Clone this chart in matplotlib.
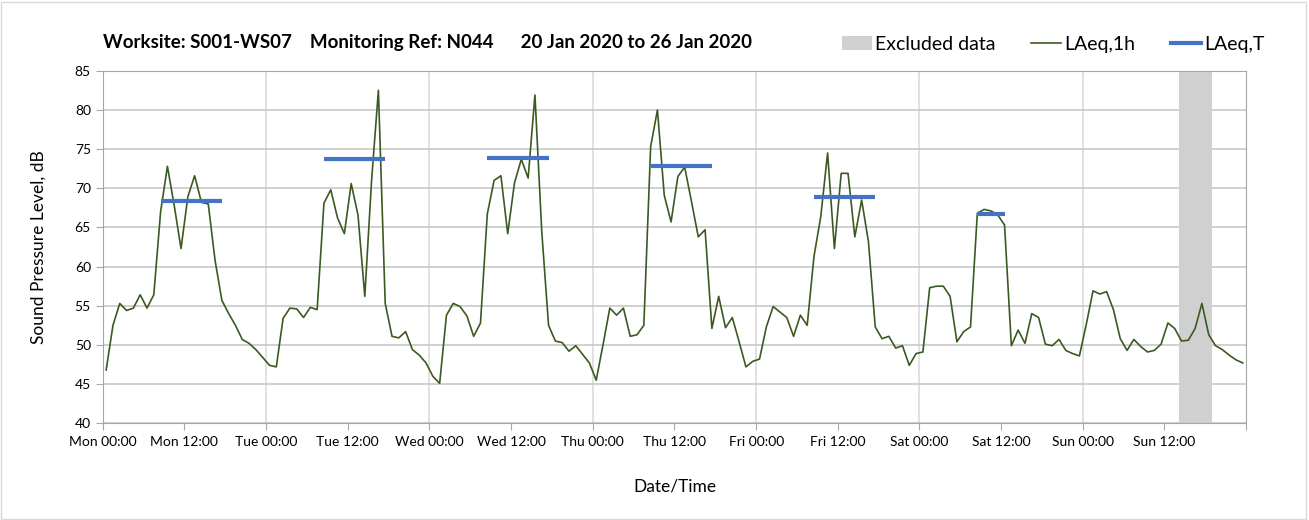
import numpy as np
import matplotlib
matplotlib.use('Agg')
import matplotlib.pyplot as plt
from matplotlib.patches import Patch, Rectangle
from matplotlib.lines import Line2D

plt.rcParams['font.family'] = ['Lato', 'DejaVu Sans']

# hourly LAeq,1h values, Mon 00:00 .. Sun 23:00
laeq_1h = [
    46.8, 52.5, 55.3, 54.4, 54.7, 56.4, 54.7, 56.4, 67.0, 72.8, 67.8, 62.3,
    68.9, 71.6, 68.2, 68.0, 60.8, 55.7, 54.0, 52.5, 50.7, 50.2, 49.4, 48.4,
    47.4, 47.2, 53.4, 54.7, 54.6, 53.5, 54.8, 54.5, 68.1, 69.8, 66.2, 64.2,
    70.6, 66.6, 56.2, 71.0, 82.5, 55.3, 51.1, 50.9, 51.7, 49.4, 48.7, 47.7,
    46.0, 45.1, 53.8, 55.3, 54.9, 53.7, 51.1, 52.8, 66.7, 71.0, 71.6, 64.2,
    70.7, 73.7, 71.3, 81.9, 64.5, 52.5, 50.5, 50.3, 49.2, 49.9, 48.8, 47.7,
    45.5, 50.0, 54.7, 53.8, 54.7, 51.1, 51.3, 52.5, 75.3, 80.0, 69.1, 65.7,
    71.5, 72.7, 68.3, 63.8, 64.7, 52.1, 56.2, 52.2, 53.5, 50.4, 47.2, 47.9,
    48.2, 52.3, 54.9, 54.2, 53.5, 51.1, 53.8, 52.5, 61.3, 66.4, 74.5, 62.3,
    71.9, 71.9, 63.8, 68.5, 63.2, 52.3, 50.8, 51.1, 49.6, 49.9, 47.4, 48.9,
    49.1, 57.3, 57.5, 57.5, 56.2, 50.4, 51.7, 52.3, 66.8, 67.3, 67.1, 66.6,
    65.3, 49.9, 51.9, 50.2, 54.0, 53.5, 50.1, 49.9, 50.7, 49.3, 48.9, 48.6,
    52.6, 56.9, 56.5, 56.8, 54.5, 50.8, 49.3, 50.7, 49.8, 49.1, 49.3, 50.1,
    52.8, 52.1, 50.5, 50.6, 52.1, 55.3, 51.3, 49.9, 49.4, 48.7, 48.1, 47.7,
]

# LAeq,T periods (first hour, last hour, level)
period_start = [8, 32, 56, 80, 104, 128]
period_end = [17, 41, 65, 89, 113, 132]
laeq_t = [68.4, 73.7, 73.85, 72.8, 68.9, 66.75]

excluded_start = 158.2
excluded_end = 163.0

days = ['Mon', 'Tue', 'Wed', 'Thu', 'Fri', 'Sat', 'Sun']
tick_labels = [f'{d} {h}' for d in days for h in ['00:00', '12:00']] + ['']

hours = np.arange(len(laeq_1h)) + 0.5

fig = plt.figure(figsize=(13.09, 5.2), dpi=100)
ax = fig.add_axes([0.0785, 0.186, 0.8735, 0.678])

ax.axvspan(excluded_start, excluded_end, color='#d0d0d0', lw=0, zorder=1)
ax.plot(hours, laeq_1h, color='#3b5a22', lw=1.2, zorder=3)
for s, e, v in zip(period_start, period_end, laeq_t):
    ax.hlines(v, s + 0.5, e + 0.5, color='#4472c4', lw=3, zorder=4)

ax.set_xlim(0, 168)
ax.set_ylim(40, 85)
ax.set_xticks(np.arange(0, 169, 12))
ax.set_xticklabels(tick_labels, fontsize=10)
ax.set_yticks(np.arange(40, 86, 5))
ax.tick_params(axis='y', labelsize=10, length=5, color='#a6a6a6')
ax.tick_params(axis='x', length=5, color='#a6a6a6', pad=4)

ax.grid(axis='y', color='#c8c8c8', lw=1.2, zorder=0)
for x in range(24, 168, 24):
    ax.axvline(x, color='#dcdcdc', lw=1.2, zorder=0)
for sp in ax.spines.values():
    sp.set_color('#a6a6a6')
ax.set_axisbelow(True)

ax.set_ylabel('Sound Pressure Level, dB', fontsize=12.5, labelpad=20)
ax.set_xlabel('Date/Time', fontsize=12.5, labelpad=22)

fig.text(0.079, 0.918, 'Worksite: S001-WS07    Monitoring Ref: N044      20 Jan 2020 to 26 Jan 2020',
         fontsize=13.5, fontweight='bold', va='center')

handles = [Patch(facecolor='#d0d0d0', edgecolor='none', label='Excluded data'),
           Line2D([], [], color='#3b5a22', lw=1.2, label='LAeq,1h'),
           Line2D([], [], color='#4472c4', lw=3, label='LAeq,T')]
fig.legend(handles=handles, loc='center right', bbox_to_anchor=(0.966, 0.915),
           ncol=3, frameon=False, fontsize=14, handlelength=1.55, handletextpad=0.15,
           columnspacing=1.85, borderaxespad=0, borderpad=0)

fig.add_artist(Rectangle((0.001, 0.002), 0.997, 0.995, transform=fig.transFigure,
                         fill=False, edgecolor='#d9d9d9', lw=1))

fig.savefig('out.png', dpi=100)
